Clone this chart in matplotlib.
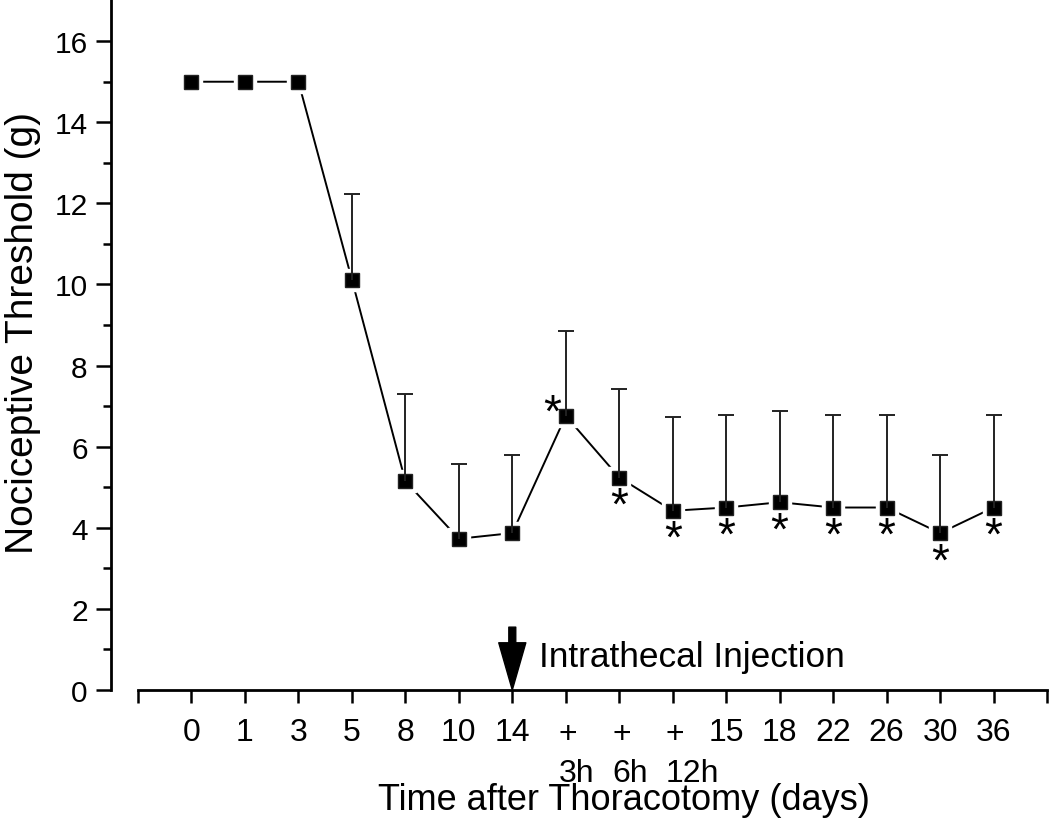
import numpy as np
import matplotlib.pyplot as plt

plt.rcParams['font.family'] = ['Liberation Sans', 'DejaVu Sans']

# data
time_labels = ['0', '1', '3', '5', '8', '10', '14', '+\n3h', '+\n6h', '+\n12h',
               '15', '18', '22', '26', '30', '36']
threshold = [15.0, 15.0, 15.0, 10.12, 5.15, 3.73, 3.87, 6.76, 5.24, 4.42,
             4.50, 4.63, 4.50, 4.50, 3.87, 4.50]
upper_err = [np.nan, np.nan, np.nan, 12.22, 7.30, 5.58, 5.80, 8.85, 7.42, 6.72,
             6.79, 6.89, 6.79, 6.79, 5.80, 6.79]
# significance marks: 'above' / 'below' / None
signif = [None, None, None, None, None, None, None, 'above', 'below', 'below',
          'below', 'below', 'below', 'below', 'below', 'below']

x = np.arange(len(threshold))
y = np.array(threshold)
up = np.array(upper_err)

fig = plt.figure(figsize=(10.5, 8.28), dpi=100)
ax = fig.add_axes([138 / 1050, 137 / 828, 909 / 1050, 691 / 828])

# line with gaps around the markers (white halo), then markers, then error bars
ax.plot(x, y, '-', color='black', lw=1.4, zorder=2)
ax.plot(x, y, 's', ms=16, color='white', zorder=3)
ax.plot(x, y, 's', ms=10.3, color='black', mec='#222222', zorder=4)
has_err = ~np.isnan(up)
ax.vlines(x[has_err], y[has_err], up[has_err], color='#222222', lw=1.4, zorder=5)
ax.plot(x[has_err], up[has_err], '_', ms=11.5, mew=1.4, color='#222222', zorder=5)

# asterisks
fs_star = 33
for xi, yi, s in zip(x, y, signif):
    if s is None:
        continue
    if s == 'below':
        dx, dy = 0, -15
    else:
        dx, dy = -14, 17
    ax.annotate('*', xy=(xi, yi), xytext=(dx, dy - 0.575 * fs_star * 100 / 72),
                textcoords='offset pixels', ha='center', va='baseline',
                fontsize=fs_star, zorder=6)

# injection arrow at day 14
inj = time_labels.index('14')
ax.annotate('', xy=(inj, 0), xytext=(inj, 1.55),
            arrowprops=dict(facecolor='black', edgecolor='black', width=5,
                            headwidth=19.5, headlength=34, shrink=0),
            zorder=6, annotation_clip=False)
ax.annotate('Intrathecal Injection', xy=(inj, 0), xytext=(27, 24),
            textcoords='offset pixels', ha='left', va='baseline', fontsize=25.4)

# axes
ax.set_xlim(-1, len(threshold))
ax.set_ylim(0, 17.04)
ax.spines['top'].set_visible(False)
ax.spines['right'].set_visible(False)
ax.spines['left'].set_position(('outward', 27 * 0.72))
for sp in ('left', 'bottom'):
    ax.spines[sp].set_linewidth(2.0)

ax.set_xticks(np.arange(-1, len(threshold) + 1))
ax.tick_params(axis='x', direction='out', length=9.4, width=1.8, labelbottom=False)
ax.set_yticks(np.arange(0, 17, 2))
ax.set_yticks(np.arange(1, 17, 2), minor=True)
ax.tick_params(axis='y', which='major', direction='out', length=11, width=1.8,
               labelsize=21.5, pad=5.8)
ax.tick_params(axis='y', which='minor', direction='out', length=5.8, width=1.8)

for xi, lab in zip(x, time_labels):
    if '\n' in lab:
        # two-line label: baseline of the last line sets the position
        ha, dx, dy = 'left', -7, -91
    else:
        ha, dx, dy = 'center', 0, -50
    ax.annotate(lab, xy=(xi, 0), xycoords=('data', 'axes fraction'),
                xytext=(dx, dy), textcoords='offset pixels', ha=ha,
                va='baseline', fontsize=23, multialignment='left',
                linespacing=1.4, annotation_clip=False)

ax.set_xlabel('Time after Thoracotomy (days)', fontsize=26, va='baseline')
ax.xaxis.set_label_coords((624 - 138) / 909, -(810 - 691) / 691)
ax.set_ylabel('Nociceptive Threshold (g)', fontsize=28, va='baseline')
ax.yaxis.set_label_coords(-(138 - 33) / 909, (691 - 333) / 691)

fig.savefig('out.png', dpi=100)
